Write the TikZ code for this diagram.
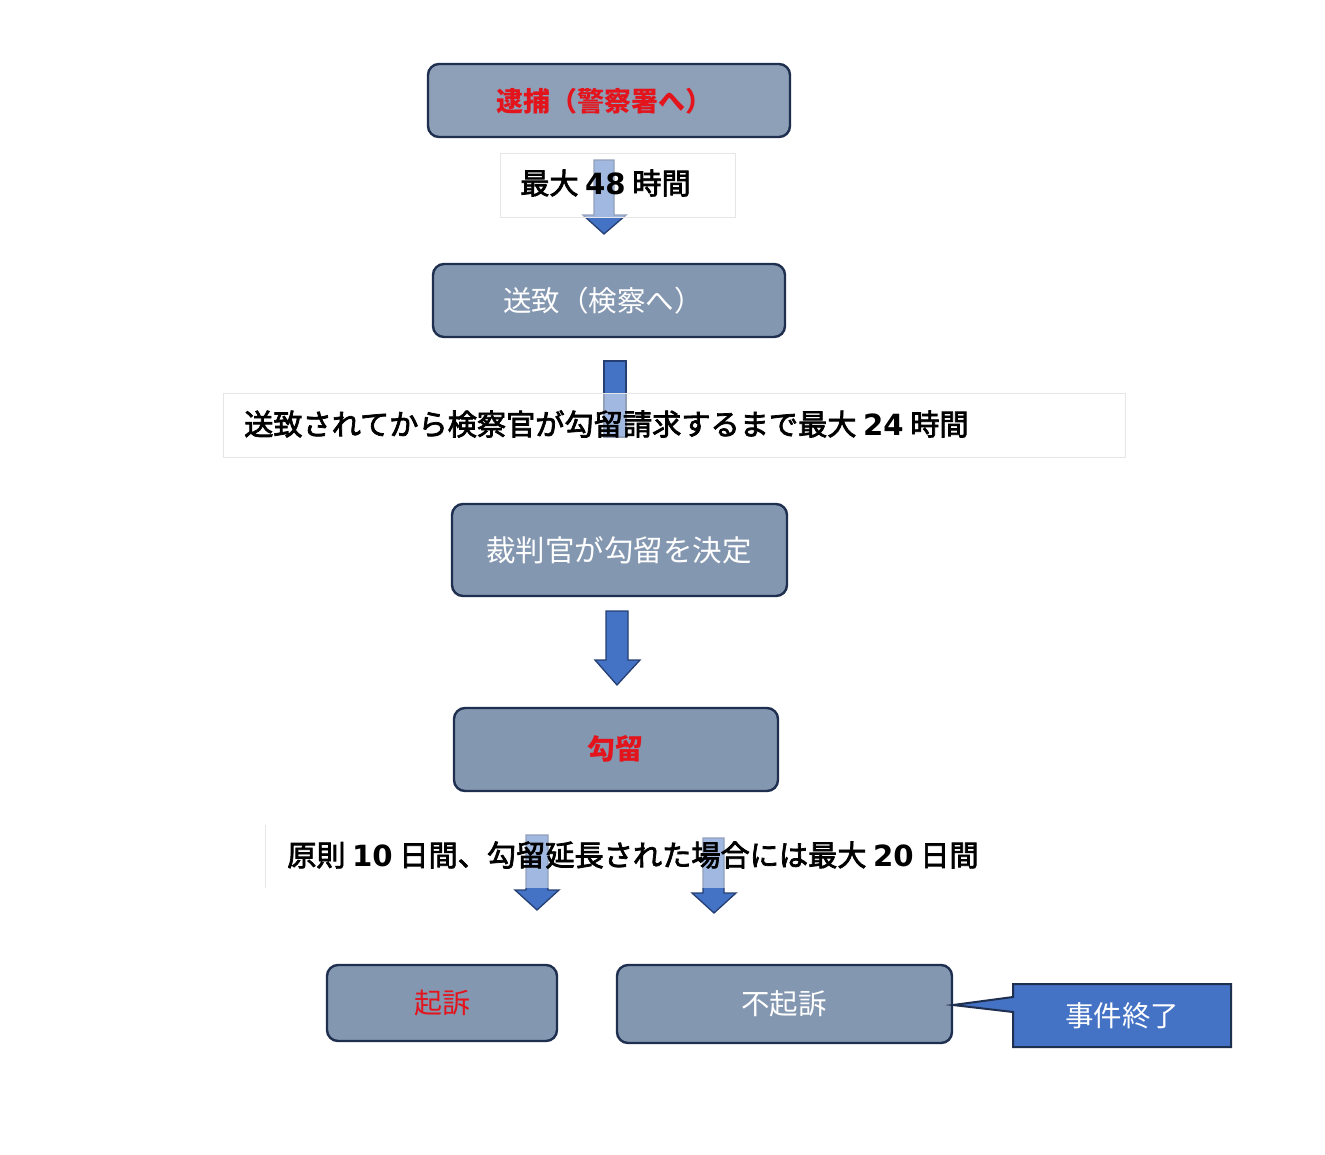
\documentclass[tikz,border=0pt]{standalone}
\usepackage{fontspec}
\newfontfamily\jp{Noto Sans CJK JP}
\newfontfamily\jpm{Noto Sans CJK JP}[BoldFont={Noto Sans CJK JP},BoldFeatures={FakeBold=2.5}]
\newfontfamily\dv{DejaVu Sans}
\definecolor{boxfill}{HTML}{8497B0}
\definecolor{boxfillA}{HTML}{8E9FB8}
\definecolor{boxline}{HTML}{1F2F4F}
\definecolor{arrfill}{HTML}{4472C4}
\definecolor{arrline}{HTML}{253F73}
\definecolor{txtred}{HTML}{E3141C}
\definecolor{faint}{HTML}{E6E6E6}
\tikzset{
  flowbox/.style={draw=boxline, line width=2.4pt, fill=boxfill, rounded corners=11pt},
  boxtext/.style={font=\jp\fontsize{28.5}{34}\selectfont, text=white, inner sep=0pt},
  redtext/.style={font=\jp\bfseries\fontsize{28}{34}\selectfont, text=txtred, inner sep=0pt},
  redthin/.style={font=\jp\fontsize{28}{34}\selectfont, text=txtred, inner sep=0pt},
  notebox/.style={draw=faint, line width=0.8pt, fill=white, fill opacity=0.5},
  notetext/.style={font=\jpm\bfseries\fontsize{29.2}{34}\selectfont, text=black, inner sep=0pt, anchor=west},
  blockarrow/.style={fill=arrfill, draw=arrline, line width=1.3pt, line join=miter},
  callout/.style={fill=arrfill, draw=boxline, line width=2pt, line join=miter}
}
\newcommand{\num}[1]{{\dv\bfseries #1}}
\begin{document}
\begin{tikzpicture}[x=1pt,y=-1pt]
\useasboundingbox[fill=white] (0,0) rectangle (1325,1154);

% block arrows (drawn beneath the note boxes)
\draw[blockarrow] (594,160) -- (614,160) -- (614,215) -- (626,215) -- (604,234) -- (583,215) -- (594,215) -- cycle;
\draw[blockarrow] (604,361) rectangle (626,437);
\draw[blockarrow] (606,611) -- (628,611) -- (628,660) -- (640,660) -- (617,685) -- (595,660) -- (606,660) -- cycle;
\draw[blockarrow] (526,835) -- (548,835) -- (548,890) -- (559,890) -- (537,910) -- (515,890) -- (526,890) -- cycle;
\draw[blockarrow] (703,838) -- (724,838) -- (724,893) -- (736,893) -- (714,913) -- (692,893) -- (703,893) -- cycle;

% flow boxes
\draw[flowbox, fill=boxfillA] (428,64) rectangle (790,137);
\node[redtext, font=\jp\bfseries\fontsize{27}{34}\selectfont] (taiho) at (604,101) {逮捕（警察署へ）};

\draw[flowbox] (433,264) rectangle (785,337);
\node[boxtext] (souchi) at (603,301) {送致（検察へ）};

\draw[flowbox] (452,504) rectangle (787,596);
\node[boxtext, font=\jp\fontsize{29.5}{34}\selectfont] (kettei) at (619,550) {裁判官が勾留を決定};

\draw[flowbox] (454,708) rectangle (778,791);
\node[redtext] (kouryu) at (615,749) {勾留};

\draw[flowbox] (327,965) rectangle (557,1041);
\node[redthin] (kiso) at (442,1003) {起訴};

\draw[flowbox] (617,965) rectangle (952,1043);
\node[boxtext] (fukiso) at (784,1004) {不起訴};

% callout
\draw[callout] (1013,984) -- (1231,984) -- (1231,1047) -- (1013,1047) -- (1013,1012) -- (953,1005) -- (1013,997) -- cycle;
\node[boxtext] (shuryo) at (1122,1016) {事件終了};

% note boxes (semi-transparent over arrows)
\draw[notebox] (500,153) rectangle (735,217);
\node[notetext] (n1) at (520,183) {最大 \num{48} 時間};

\draw[notebox] (223,393) rectangle (1125,457);
\node[notetext] (n2) at (244,424) {送致されてから検察官が勾留請求するまで最大 \num{24} 時間};

\fill[white, fill opacity=0.5] (265,825) rectangle (1000,888);
\draw[faint, line width=0.8pt] (265,825) -- (265,888);
\node[notetext] (n3) at (287,855) {原則 \num{10} 日間、勾留延長された場合には最大 \num{20} 日間};
\end{tikzpicture}
\end{document}
